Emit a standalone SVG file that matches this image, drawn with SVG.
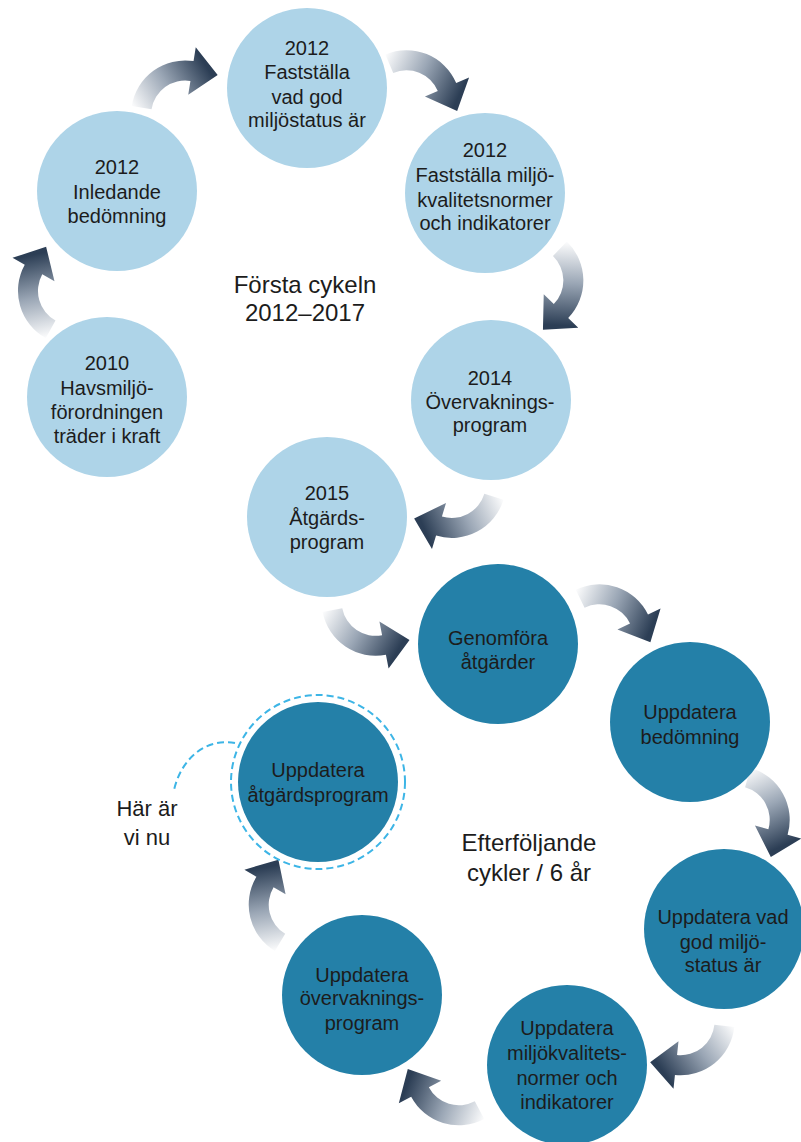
<svg xmlns="http://www.w3.org/2000/svg" xmlns:xlink="http://www.w3.org/1999/xlink" width="801" height="1142" viewBox="0 0 801 1142">
<style>
.light{fill:#aed4e8}
.dark{fill:#2480a8}
.t{font-family:"Liberation Sans",Arial,sans-serif;font-size:20px;fill:#1c1c1c;text-anchor:middle}
.big{font-family:"Liberation Sans",Arial,sans-serif;font-size:24px;fill:#1c1c1c;text-anchor:middle}
.dash{fill:none;stroke:#3db5e6;stroke-width:2;stroke-dasharray:7 4}
</style>
<defs>
<linearGradient id="ag" gradientUnits="userSpaceOnUse" x1="-50" y1="50" x2="14" y2="-6">
<stop offset="0" stop-color="#ffffff"/>
<stop offset="0.5" stop-color="#9aa6b5"/>
<stop offset="1" stop-color="#2c3e55"/>
</linearGradient>
<path id="arr" fill="url(#ag)" d="M -54,44 A 54 54 0 0 1 0,-10 L 0,-24 L 26,0 L 0,24 L 0,10 A 34 34 0 0 0 -34,44 Z"/>
</defs>
<rect width="801" height="1142" fill="#ffffff"/>

<g id="connectors">
<use xlink:href="#arr" href="#arr" transform="translate(33.5,269.5) rotate(-61)"/>
<use xlink:href="#arr" href="#arr" transform="translate(192,71) rotate(9)"/>
<use xlink:href="#arr" href="#arr" transform="translate(447,87) rotate(67)"/>
<use xlink:href="#arr" href="#arr" transform="translate(561,311) rotate(134)"/>
<use xlink:href="#arr" href="#arr" transform="translate(439,526) rotate(197)"/>
<use xlink:href="#arr" href="#arr" transform="translate(384,645) rotate(-11) scale(1,-1)"/>
<use xlink:href="#arr" href="#arr" transform="translate(639,619) rotate(64)"/>
<use xlink:href="#arr" href="#arr" transform="translate(778,832) rotate(106)"/>
<use xlink:href="#arr" href="#arr" transform="translate(676,1065) rotate(186)"/>
<use xlink:href="#arr" href="#arr" transform="translate(420,1092) rotate(242)"/>
<use xlink:href="#arr" href="#arr" transform="translate(265,882) rotate(-59)"/>
</g>

<g id="n2010">
<circle class="light" cx="107" cy="397" r="80"/>
<text class="t" x="107" y="370">2010</text>
<text class="t" x="107" y="395">Havsmiljö-</text>
<text class="t" x="107" y="419">förordningen</text>
<text class="t" x="107" y="443">träder i kraft</text>
</g>

<g id="n2012a">
<circle class="light" cx="117" cy="191" r="80"/>
<text class="t" x="117" y="174">2012</text>
<text class="t" x="117" y="199">Inledande</text>
<text class="t" x="117" y="223">bedömning</text>
</g>

<g id="n2012b">
<circle class="light" cx="307" cy="88" r="80"/>
<text class="t" x="307" y="55">2012</text>
<text class="t" x="307" y="79">Fastställa</text>
<text class="t" x="307" y="104">vad god</text>
<text class="t" x="307" y="127">miljöstatus är</text>
</g>

<g id="n2012c">
<circle class="light" cx="485" cy="193" r="80"/>
<text class="t" x="485" y="157">2012</text>
<text class="t" x="485" y="182">Fastställa miljö-</text>
<text class="t" x="485" y="207">kvalitetsnormer</text>
<text class="t" x="485" y="230">och indikatorer</text>
</g>

<g id="n2014">
<circle class="light" cx="491" cy="400" r="80"/>
<text class="t" x="490" y="385">2014</text>
<text class="t" x="490" y="409">Övervaknings-</text>
<text class="t" x="490" y="432">program</text>
</g>

<g id="n2015">
<circle class="light" cx="327" cy="517" r="80"/>
<text class="t" x="327" y="500">2015</text>
<text class="t" x="327" y="525">Åtgärds-</text>
<text class="t" x="327" y="549">program</text>
</g>

<g id="genomfora">
<circle class="dark" cx="498" cy="644" r="80"/>
<text class="t" x="498" y="645">Genomföra</text>
<text class="t" x="498" y="669">åtgärder</text>
</g>

<g id="bedomning">
<circle class="dark" cx="690" cy="722" r="80"/>
<text class="t" x="690" y="719">Uppdatera</text>
<text class="t" x="690" y="744">bedömning</text>
</g>

<g id="godstatus">
<circle class="dark" cx="724" cy="929" r="80"/>
<text class="t" x="723" y="924">Uppdatera vad</text>
<text class="t" x="723" y="949">god miljö-</text>
<text class="t" x="723" y="972">status är</text>
</g>

<g id="normer">
<circle class="dark" cx="567" cy="1065" r="80"/>
<text class="t" x="567" y="1035">Uppdatera</text>
<text class="t" x="567" y="1060">miljökvalitets-</text>
<text class="t" x="567" y="1085">normer och</text>
<text class="t" x="567" y="1109">indikatorer</text>
</g>

<g id="overvakning">
<circle class="dark" cx="362" cy="995" r="80"/>
<text class="t" x="362" y="982">Uppdatera</text>
<text class="t" x="362" y="1005">övervaknings-</text>
<text class="t" x="362" y="1030">program</text>
</g>

<g id="atgardsprogram">
<circle class="dark" cx="318" cy="782" r="80"/>
<circle class="dash" cx="318" cy="782" r="87"/>
<text class="t" x="318" y="777">Uppdatera</text>
<text class="t" x="318" y="802">åtgärdsprogram</text>
</g>

<g id="harnu">
<path class="dash" d="M 235,743 C 208,738 182,756 174,790"/>
<text class="big" x="147" y="816" style="font-size:22px">Här är</text>
<text class="big" x="147" y="845" style="font-size:22px">vi nu</text>
</g>

<g id="forsta">
<text class="big" x="305" y="293">Första cykeln</text>
<text class="big" x="305" y="321">2012–2017</text>
</g>

<g id="efterfoljande">
<text class="big" x="529" y="851">Efterföljande</text>
<text class="big" x="529" y="881">cykler / 6 år</text>
</g>
</svg>
